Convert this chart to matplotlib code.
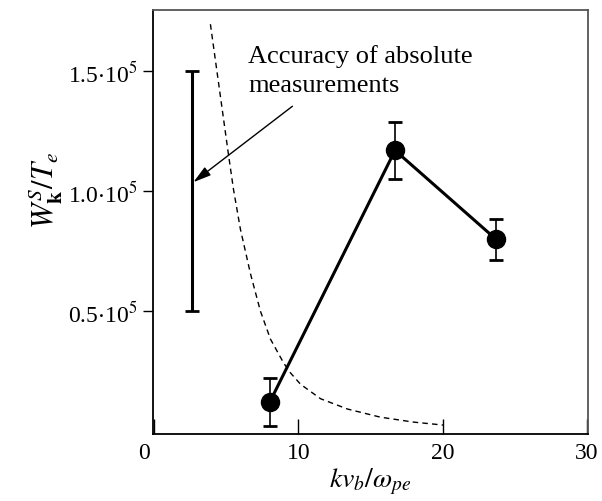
import matplotlib
matplotlib.use('Agg')
import matplotlib.pyplot as plt
import matplotlib.transforms as mtransforms

plt.rcParams['font.family'] = 'Liberation Serif'
plt.rcParams['mathtext.fontset'] = 'stix'

# measured points (x = k v_b / w_pe, y in units of 1e5)
kv = [8.0, 16.7, 23.7]
W = [0.12, 1.17, 0.80]
W_err = [0.10, 0.12, 0.085]

# accuracy bar
acc_x = 2.6
acc_lo, acc_hi = 0.50, 1.50

# dashed theory curve
curve_x = [3.89, 5.14, 5.49, 5.97, 6.67, 7.36, 8.06, 8.96, 9.44, 10.14,
           11.53, 13.40, 15.69, 17.99, 20.07]
curve_y = [1.696, 1.154, 1.008, 0.842, 0.656, 0.50, 0.383, 0.285, 0.243, 0.1955,
           0.135, 0.092, 0.058, 0.0375, 0.025]

ytick_vals = [0.5, 1.0, 1.5]
ytick_labels = [r'0.5$\cdot$10$^5$', r'1.0$\cdot$10$^5$', r'1.5$\cdot$10$^5$']

fig = plt.figure(figsize=(6.02, 5.02), dpi=100)
ax = fig.add_axes([0.254, 0.1335, 0.723, 0.8445])

ax.plot(curve_x, curve_y, color='black', linestyle=(0, (4, 3)), linewidth=1.0)
ax.plot(kv, W, color='black', linewidth=2.2, marker='o', markersize=13)
ax.errorbar(kv, W, yerr=W_err, fmt='none', ecolor='black', elinewidth=1.2,
            capsize=5, capthick=2.0)
ax.errorbar([acc_x], [(acc_lo + acc_hi) / 2], yerr=[(acc_hi - acc_lo) / 2],
            fmt='none', ecolor='black', elinewidth=2.2, capsize=5, capthick=2.0)

ax.annotate('', xy=(2.71, 1.0375), xytext=(9.58, 1.354),
            arrowprops=dict(arrowstyle='-|>,head_length=0.6,head_width=0.17',
                            color='black', lw=1.0,
                            mutation_scale=18, shrinkA=0, shrinkB=0))
ax.text(6.53, 1.537, 'Accuracy of absolute', fontsize=19, va='baseline', ha='left')
ax.text(6.53, 1.417, 'measurements', fontsize=19, va='baseline', ha='left')

ax.set_xlim(-0.1, 30.1)
ax.set_ylim(-0.012, 1.755)
ax.set_xticks([0, 10, 20, 30])
ax.set_xticklabels(['0', '10', '20', '30'], fontsize=17)
ax.set_yticks(ytick_vals)
ax.set_yticklabels(ytick_labels, fontsize=17)
ax.tick_params(axis='x', direction='in', length=11, width=1.0, pad=6)
ax.tick_params(axis='y', direction='out', length=7, width=1.0, pad=4)

# the "0" sits a little left of the corner in the original
lbl0 = ax.get_xticklabels()[0]
lbl0.set_transform(lbl0.get_transform() +
                   mtransforms.ScaledTranslation(-10 / 100, 0, fig.dpi_scale_trans))

for side in ['top', 'right']:
    ax.spines[side].set_color('#555555')
    ax.spines[side].set_linewidth(1.3)
for side in ['left', 'bottom']:
    ax.spines[side].set_linewidth(1.3)

ax.set_xlabel(r'$k v_b/\omega_{pe}$', fontsize=20, labelpad=2)
ax.set_ylabel(r'$W_{\mathbf{k}}^{S}/T_e$', fontsize=22, labelpad=2, y=0.578)

fig.savefig('out.png', dpi=100)
